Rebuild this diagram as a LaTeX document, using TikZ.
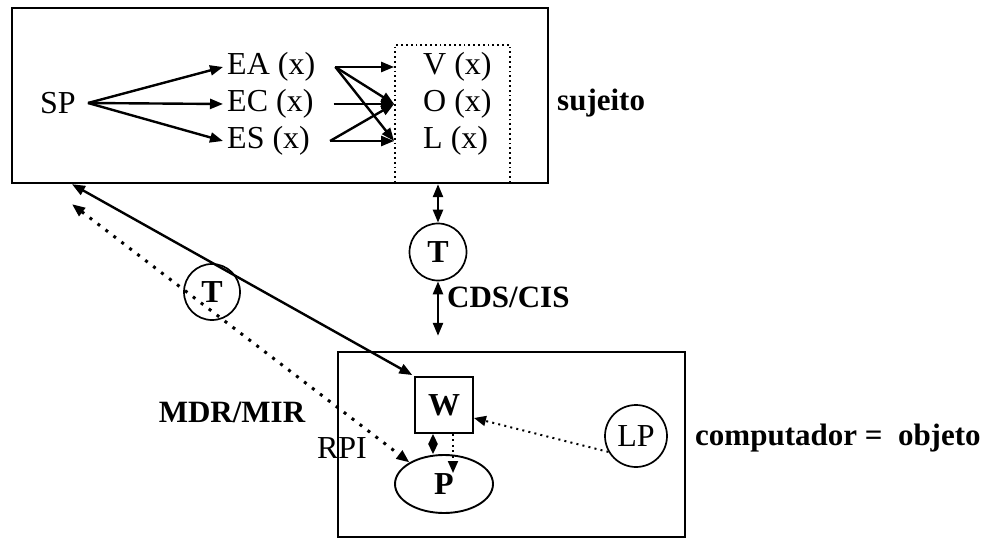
\documentclass[tikz,border=0pt]{standalone}
\usepackage{fontspec}
\setmainfont{Liberation Serif}
\usetikzlibrary{arrows.meta,shapes.geometric,positioning,calc}
\tikzset{
  % Frames: subject box, computer box, dotted V/O/L group
  frame/.style={draw, rectangle, line width=2.4pt, inner sep=0pt},
  frame-dotted/.style={draw, rectangle, line width=1.8pt, dash pattern=on 1.8pt off 3pt, inner sep=0pt},
  % Labels
  lbl/.style={font=\fontsize{32}{34}\selectfont, inner sep=4pt},
  blbl/.style={font=\fontsize{31}{33}\selectfont\bfseries, inner sep=0pt},
  % Round nodes (translators, LP)
  tnode/.style={draw, circle, line width=1.7pt, minimum size=57pt, inner sep=0pt,
                font=\fontsize{32}{34}\selectfont\bfseries},
  % Arrows
  arr/.style={-{Triangle[length=13pt,width=10pt]}, line width=2.4pt},
  dblarr/.style={{Triangle[length=13pt,width=10pt]}-{Triangle[length=13pt,width=10pt]}, line width=2.4pt},
  dotarr/.style={-{Triangle[length=12pt,width=10pt]}, line width=2pt, dash pattern=on 2.4pt off 6.5pt},
  dotdbl/.style={{Triangle[length=13pt,width=10pt]}-{Triangle[length=13pt,width=10pt]}, line width=3pt,
                 dash pattern=on 3pt off 7pt}
}
\begin{document}
\begin{tikzpicture}[x=1pt,y=-1pt]
\useasboundingbox (0,0) rectangle (995,545);

% ============== TOP: subject ==============
\node[frame, minimum width=536pt, minimum height=175pt] (subj) at (280,95.5) {};
\node[frame-dotted, minimum width=115pt, minimum height=138pt] (grp) at (452.5,114) {};

\node[lbl] (sp) at (58,103) {SP};
\node[lbl, anchor=west] (ea) at (223,67) {EA (x)};
\node[lbl, anchor=west] (ec) at (223,104) {EC (x)};
\node[lbl, anchor=west] (es) at (223,141) {ES (x)};

\node[lbl, anchor=west] (v) at (419,67) {V (x)};
\node[lbl, anchor=west] (o) at (419,104) {O (x)};
\node[lbl, anchor=west] (l) at (419,141) {L (x)};

\node[blbl, anchor=west] (suj) at (557,103) {sujeito};

% SP -> EA / EC / ES
\draw[arr] ([xshift=8pt]sp.east) -- (ea.west);
\draw[arr] ([xshift=8pt]sp.east) -- (ec.west);
\draw[arr] ([xshift=8pt]sp.east) -- (es.west);

% EA / EC / ES -> V / O / L
\draw[arr] ([xshift=16pt]ea.east) -- (v -| grp.west);
\draw[arr] ([xshift=16pt]ea.east) -- (o -| grp.west);
\draw[arr] ([xshift=16pt]ea.east) -- (l -| grp.west);
\draw[arr] ([xshift=16pt]ec.east) -- (o -| grp.west);
\draw[arr] ([xshift=16pt]es.east) -- (o -| grp.west);
\draw[arr] ([xshift=16pt]es.east) -- (l -| grp.west);

% ============== MIDDLE: translators ==============
\node[tnode] (tr) at (438,252) {T};
\node[blbl, anchor=west] (cds) at (447,297) {CDS/CIS};

\node[tnode, minimum size=56pt] (tl) at (212,292) {T};
\node[blbl] (mdr) at (232,412) {MDR/MIR};

% ============== BOTTOM: computer ==============
\node[frame, minimum width=347pt, minimum height=185pt] (comp) at (511.5,444.5) {};
\node[draw, rectangle, line width=1.9pt, minimum width=58pt, minimum height=56pt,
      font=\fontsize{32}{34}\selectfont\bfseries] (w) at (444,405) {W};
\node[draw, ellipse, line width=1.9pt, minimum width=98pt, minimum height=58pt,
      font=\fontsize{32}{34}\selectfont\bfseries] (p) at (444,484) {P};
\node[tnode, minimum size=62pt, font=\fontsize{32}{34}\selectfont] (lp) at (636,436) {LP};
\node[lbl, inner sep=0pt] (rpi) at (342,448) {RPI};
\node[blbl, anchor=west] (obj) at (695,438) {computador =\ \ objeto};

% ============== Connectors ==============
% subject <-> T <-> computer
\draw[dblarr] (tr.north) -- (tr.north |- subj.south);
\draw[dblarr, shorten >=15pt] (tr.south) -- (tr.south |- comp.north);

% subject <-> W (solid), subject <-> P (dotted)
\draw[dblarr, shorten >=2pt] ([xshift=-208pt]subj.south) -- (w.north west);
\draw[dotdbl] ([xshift=-208pt,yshift=-20pt]subj.south) -- (p.148);

% W <-> P, W -> P, LP -> W
\draw[{Triangle[length=10pt,width=9pt]}-{Triangle[length=10pt,width=9pt]}, line width=2pt]
  ([xshift=-11pt]w.south) -- ([xshift=-11pt]w.south |- p.north);
\draw[dotarr, line width=2pt, dash pattern=on 2pt off 3.4pt, shorten >=11pt]
  ([xshift=9pt]w.south) -- ([xshift=9pt]w.south |- p.center);
\draw[dotarr, line width=2pt, dash pattern=on 2pt off 4.2pt] (lp.210) -- ([yshift=-13pt]w.east);

\end{tikzpicture}
\end{document}
